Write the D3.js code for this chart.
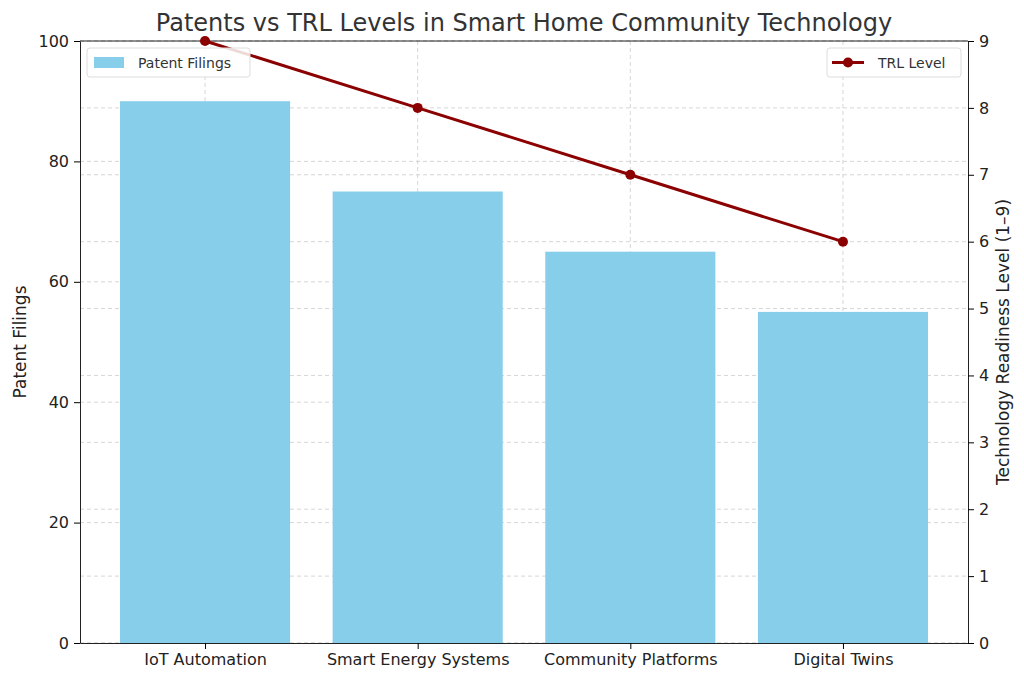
<!DOCTYPE html>
<html><head><meta charset="utf-8">
<script src="https://cdn.jsdelivr.net/npm/d3@7"></script>
<style>body{margin:0;background:#fff}text{font-family:"DejaVu Sans",sans-serif}</style>
</head><body><div id="chart"></div>
<script>
const categories = ["IoT Automation", "Smart Energy Systems", "Community Platforms", "Digital Twins"];
const patents = [90, 75, 65, 55];
const trl = [9, 8, 7, 6];
const leftTicks = [0, 20, 40, 60, 80, 100];
const rightTicks = [0, 1, 2, 3, 4, 5, 6, 7, 8, 9];

const width = 1024, height = 679;
const m = {left: 80, right: 968, top: 41, bottom: 643};

const svg = d3.select('#chart').append('svg')
  .attr('width', width).attr('height', height);

const x = d3.scaleLinear().domain([-0.588, 3.588]).range([m.left, m.right]);
const yL = d3.scaleLinear().domain([0, 100]).range([m.bottom, m.top]);
const yR = d3.scaleLinear().domain([0, 9]).range([m.bottom, m.top]);
const barW = x(0.8) - x(0);

// grid lines
const grid = svg.append('g').attr('stroke', '#ccc').attr('stroke-dasharray', '4,3').attr('stroke-width', 0.8);
categories.forEach((c, i) => grid.append('line').attr('x1', x(i)).attr('x2', x(i)).attr('y1', m.top).attr('y2', m.bottom));
leftTicks.forEach(t => grid.append('line').attr('x1', m.left).attr('x2', m.right).attr('y1', yL(t)).attr('y2', yL(t)));
rightTicks.forEach(t => grid.append('line').attr('x1', m.left).attr('x2', m.right).attr('y1', yR(t)).attr('y2', yR(t)));

// bars
svg.append('g').selectAll('rect').data(patents).join('rect')
  .attr('x', (d, i) => x(i) - barW / 2).attr('width', barW)
  .attr('y', d => yL(d)).attr('height', d => m.bottom - yL(d))
  .attr('fill', '#87ceeb');

// axes
const ax = g => g.call(s => s.select('.domain').attr('stroke', '#222'))
  .call(s => s.selectAll('text').attr('font-size', 16).attr('fill', '#222').attr('font-family', 'DejaVu Sans'));
svg.append('g').attr('transform', `translate(0,${m.bottom})`)
  .call(d3.axisBottom(x).tickValues([0, 1, 2, 3]).tickFormat(i => categories[i]).tickSizeOuter(0).tickPadding(5)).call(ax);
svg.append('g').attr('transform', `translate(${m.left},0)`)
  .call(d3.axisLeft(yL).tickValues(leftTicks).tickSizeOuter(0).tickPadding(5)).call(ax);
svg.append('g').attr('transform', `translate(${m.right},0)`)
  .call(d3.axisRight(yR).tickValues(rightTicks).tickSizeOuter(0).tickPadding(5)).call(ax);
svg.append('line').attr('x1', m.left).attr('x2', m.right).attr('y1', m.top).attr('y2', m.top).attr('stroke', '#222');

// TRL line
const line = d3.line().x((d, i) => x(i)).y(d => yR(d));
svg.append('path').datum(trl).attr('d', line).attr('fill', 'none').attr('stroke', '#8b0000').attr('stroke-width', 3);
svg.append('g').selectAll('circle').data(trl).join('circle')
  .attr('cx', (d, i) => x(i)).attr('cy', d => yR(d)).attr('r', 5).attr('fill', '#8b0000');

// labels
svg.append('text').attr('x', 524).attr('y', 31).attr('text-anchor', 'middle').attr('font-size', 24).attr('fill', '#333')
  .text('Patents vs TRL Levels in Smart Home Community Technology');
svg.append('text').attr('transform', `translate(26,${(m.top + m.bottom) / 2}) rotate(-90)`).attr('text-anchor', 'middle')
  .attr('font-size', 17).attr('fill', '#222').text('Patent Filings');
svg.append('text').attr('transform', `translate(1009,${(m.top + m.bottom) / 2}) rotate(-90)`).attr('text-anchor', 'middle')
  .attr('font-size', 17).attr('fill', '#222').text('Technology Readiness Level (1–9)');

// legends
const lg1 = svg.append('g').attr('transform', 'translate(87,48)');
lg1.append('rect').attr('width', 163).attr('height', 29).attr('rx', 3).attr('fill', '#fff').attr('fill-opacity', 0.85).attr('stroke', '#ddd');
lg1.append('rect').attr('x', 7).attr('y', 9).attr('width', 30).attr('height', 11).attr('fill', '#87ceeb');
lg1.append('text').attr('x', 51).attr('y', 20).attr('font-size', 14).attr('fill', '#333').text('Patent Filings');
const lg2 = svg.append('g').attr('transform', 'translate(827,48)');
lg2.append('rect').attr('width', 134).attr('height', 29).attr('rx', 3).attr('fill', '#fff').attr('fill-opacity', 0.85).attr('stroke', '#ddd');
lg2.append('line').attr('x1', 5).attr('x2', 37).attr('y1', 14.5).attr('y2', 14.5).attr('stroke', '#8b0000').attr('stroke-width', 3);
lg2.append('circle').attr('cx', 21).attr('cy', 14.5).attr('r', 5).attr('fill', '#8b0000');
lg2.append('text').attr('x', 51).attr('y', 20).attr('font-size', 14).attr('fill', '#333').text('TRL Level');
</script></body></html>
